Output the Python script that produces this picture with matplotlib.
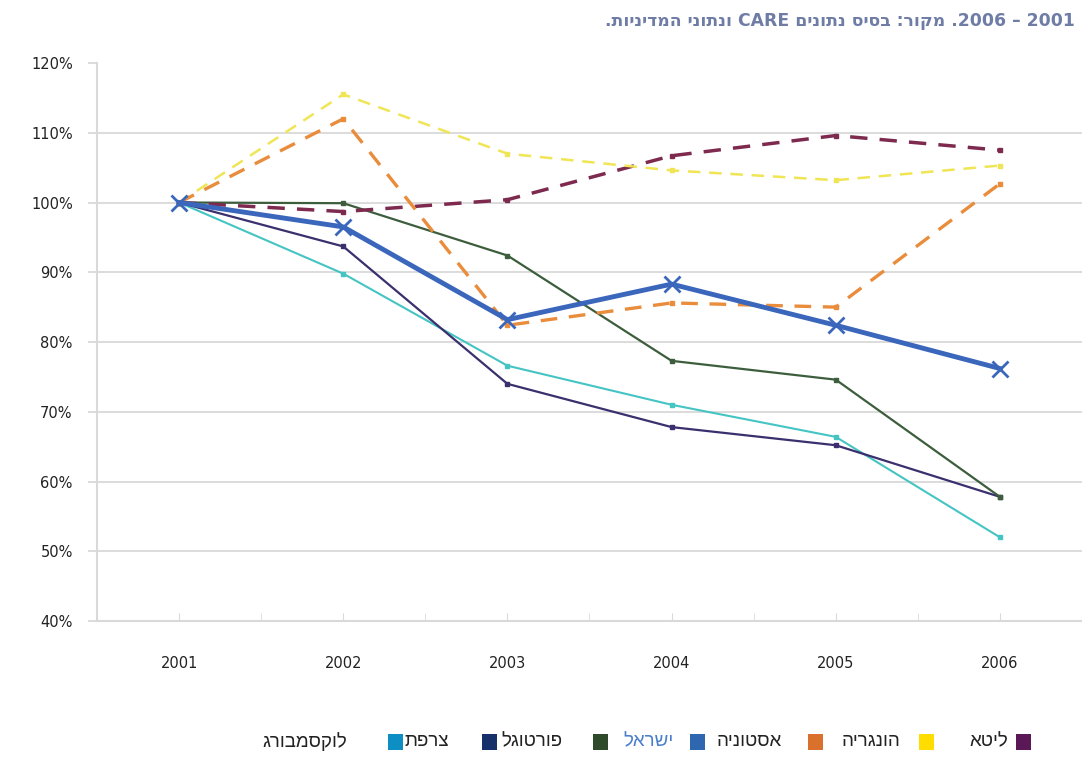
import matplotlib
matplotlib.use("Agg")
import matplotlib.pyplot as plt
from matplotlib.patches import Rectangle

plt.rcParams['font.family'] = ['DejaVu Sans']

years = ["2001", "2002", "2003", "2004", "2005", "2006"]

# series values (% of 2001)
lithuania  = [100, 98.7, 100.4, 106.7, 109.6, 107.5]
hungary    = [100, 115.5, 107.0, 104.6, 103.2, 105.3]
estonia    = [100, 112.0, 82.4, 85.6, 85.0, 102.7]
israel     = [100, 96.5, 83.2, 88.3, 82.4, 76.2]
portugal   = [100, 99.9, 92.4, 77.3, 74.6, 57.8]
france     = [100, 93.7, 74.0, 67.8, 65.2, 57.8]
luxembourg = [100, 89.8, 76.6, 71.0, 66.4, 52.0]

names = ["ליטא", "הונגריה", "אסטוניה", "ישראל", "פורטוגל", "צרפת", "לוקסמבורג"]
yticks = [40, 50, 60, 70, 80, 90, 100, 110, 120]

title_text = ".תוינידמה ינותנו CARE םינותנ סיסב :רוקמ .2006 – 2001"

W, H = 1082, 759
fig = plt.figure(figsize=(W / 100, H / 100), dpi=100)
ax = fig.add_axes([97 / W, 1 - 621 / H, (1082 - 97) / W, (621 - 63) / H])

x = list(range(1, len(years) + 1))
grid_c = "#d9d9d9"

# lines
ax.plot(x, luxembourg, color="#45c4c4", lw=1.5, marker="s", ms=3, zorder=3)
ax.plot(x, france, color="#3b2f6e", lw=1.6, marker="s", ms=3, zorder=3)
ax.plot(x, portugal, color="#3d5e3d", lw=1.6, marker="s", ms=3, zorder=3)
ax.plot(x, lithuania, color="#7d2a4e", lw=2.5, ls=(0, (5, 3.5)), marker="s", ms=3, zorder=3)
ax.plot(x, hungary, color="#efe555", lw=1.8, ls=(0, (5, 3.5)), marker="s", ms=3, zorder=3)
ax.plot(x, estonia, color="#e98c3c", lw=2.4, ls=(0, (5, 3.5)), marker="s", ms=3, zorder=3)
ax.plot(x, israel, color="#3a66bb", lw=3.5, marker="x", ms=11, mew=2, zorder=4)

ax.set_xlim(0.5, len(years) + 0.5)
ax.set_ylim(40, 120)
ax.set_yticks(yticks)
ax.set_yticklabels([f"{v}%" for v in yticks], fontsize=10.5, color="#222222")
ax.set_xticks(x)
ax.set_xticklabels(years, fontsize=10.5, color="#222222")
ax.set_xticks([v + 0.5 for v in range(0, len(years) + 1)], minor=True)

for v in yticks[1:-1]:
    ax.axhline(v, color=grid_c, lw=1.3, zorder=1)

for s in ["top", "right"]:
    ax.spines[s].set_visible(False)
for s in ["left", "bottom"]:
    ax.spines[s].set_color(grid_c)
    ax.spines[s].set_linewidth(1.5)

ax.tick_params(axis="y", length=6.5, color=grid_c, width=1.3, pad=11)
ax.tick_params(axis="x", which="major", direction="in", length=6, color=grid_c, pad=25)
ax.tick_params(axis="x", which="minor", direction="in", length=6, color=grid_c)

# title
fig.text(1075 / W, 1 - 21 / H, title_text, ha="right", va="center",
         fontsize=12.4, fontweight="bold", color="#6e7ca6")

# legend (drawn in the visual right-to-left arrangement)
box_colors = ["#5b1857", "#ffdd00", "#d9702c", "#2f66b0", "#2f4a2b", "#16306a", "#0e8fc4"]
box_x = [1016, 919, 808, 690, 593, 482, 388]
text_right = [1008, 900, 782, 674, 562, 449, 347]
legend_y = 742
for nm, bc, bx, tx in zip(names, box_colors, box_x, text_right):
    fig.patches.append(Rectangle((bx / W, 1 - (legend_y + 8) / H), 15 / W, 16 / H,
                                 transform=fig.transFigure, facecolor=bc, edgecolor="none"))
    col = "#4a7fcc" if nm == "ישראל" else "#222222"
    fig.text(tx / W, 1 - legend_y / H, nm[::-1], ha="right", va="center",
             fontsize=13.5, color=col, family=["Liberation Sans", "DejaVu Sans"])

fig.savefig("out.png", dpi=100, facecolor="white")
